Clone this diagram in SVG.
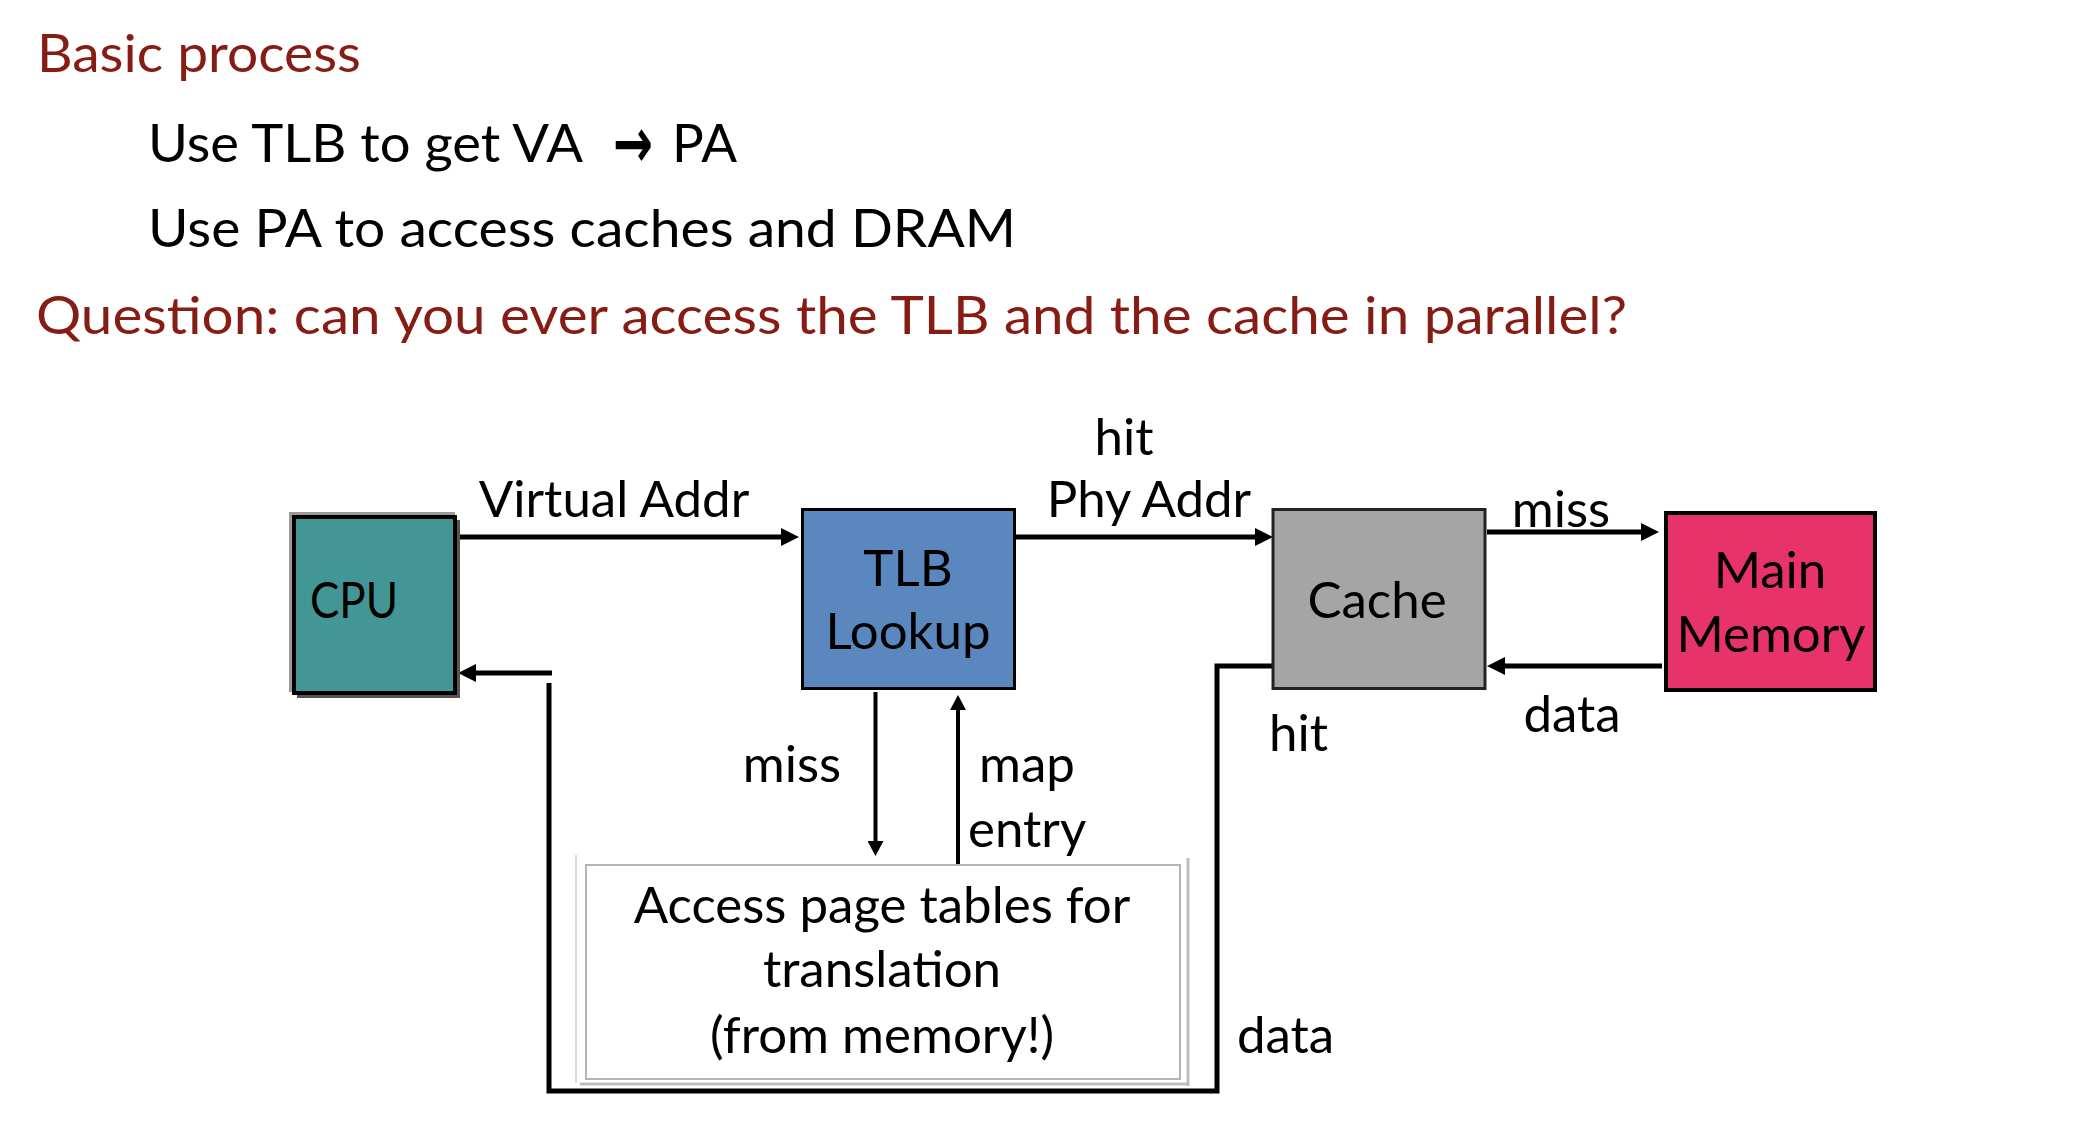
<svg xmlns="http://www.w3.org/2000/svg" width="2096" height="1136" viewBox="0 0 2096 1136">
<style>
text{font-family:Lato,"Open Sans","Liberation Sans",sans-serif;fill:#000}
.h{font-size:52px}
.red{fill:#861C13}
.lbl{font-size:51px}
.c{text-anchor:middle}
.wire{fill:none;stroke:#000;stroke-width:5}
.thin{fill:none;stroke:#000;stroke-width:4}
</style>
<defs>
<marker id="ah" markerUnits="userSpaceOnUse" markerWidth="18" markerHeight="18" refX="6" refY="9" orient="auto">
<path d="M0,0 L18,9 L0,18 z" fill="#000"/>
</marker>
<marker id="ahs" markerUnits="userSpaceOnUse" markerWidth="16" markerHeight="16" refX="5" refY="8" orient="auto">
<path d="M0,0 L15,8 L0,16 z" fill="#000"/>
</marker>
</defs>
<rect width="2096" height="1136" fill="#fff"/>
<g id="header">
<text class="h red" x="37" y="72" textLength="324" lengthAdjust="spacingAndGlyphs">Basic process</text>
<text class="h" x="148" y="162" textLength="435" lengthAdjust="spacingAndGlyphs">Use TLB to get VA</text>
<text x="613" y="167" textLength="40" lengthAdjust="spacingAndGlyphs" style="font-family:'DejaVu Sans',sans-serif;font-weight:bold;font-size:70px">→</text>
<text class="h" x="672" y="162" textLength="65" lengthAdjust="spacingAndGlyphs">PA</text>
<text class="h" x="148" y="247" textLength="868" lengthAdjust="spacingAndGlyphs">Use PA to access caches and DRAM</text>
<text class="h red" x="36" y="334" textLength="1591" lengthAdjust="spacingAndGlyphs">Question: can you ever access the TLB and the cache in parallel?</text>
</g>
<g id="connectors">
<line class="wire" x1="457" y1="537" x2="787" y2="537" marker-end="url(#ah)"/>
<line class="wire" x1="1016" y1="537" x2="1261" y2="537" marker-end="url(#ah)"/>
<line class="wire" x1="1487" y1="532" x2="1647" y2="532" marker-end="url(#ah)"/>
<line class="wire" x1="1662" y1="666" x2="1499" y2="666" marker-end="url(#ah)"/>
<path class="wire" d="M1274,666 H1217 V1091 H549 V683"/>
<line class="wire" x1="552" y1="673" x2="470" y2="673" marker-end="url(#ah)"/>
<line class="thin" x1="875.5" y1="692" x2="875.5" y2="846" marker-end="url(#ahs)"/>
<line class="thin" x1="958" y1="865" x2="958" y2="705" marker-end="url(#ahs)"/>
<text class="lbl c" x="614" y="517">Virtual Addr</text>
<text class="lbl c" x="1124" y="455">hit</text>
<text class="lbl c" x="1149" y="517">Phy Addr</text>
<text class="lbl c" x="1561" y="527">miss</text>
<text class="lbl c" x="1572" y="732">data</text>
<text class="lbl" x="1269" y="751">hit</text>
<text class="lbl c" x="792" y="782">miss</text>
<text class="lbl" x="979" y="782">map</text>
<text class="lbl" x="968" y="847">entry</text>
<text class="lbl" x="1237" y="1053">data</text>
</g>
<g id="cpu">
<rect x="289" y="512" width="166" height="180" fill="#9a9a9a"/>
<rect x="297" y="520" width="163" height="178" fill="#555"/>
<rect x="294" y="517" width="161" height="176" fill="#439696" stroke="#000" stroke-width="4"/>
<text class="lbl c" x="354" y="618" textLength="88" lengthAdjust="spacingAndGlyphs">CPU</text>
</g>
<g id="tlb">
<rect x="802.5" y="509.5" width="212" height="179" fill="#5B87BF" stroke="#000" stroke-width="3"/>
<text class="lbl c" x="908" y="586">TLB</text>
<text class="lbl c" x="908" y="649">Lookup</text>
</g>
<g id="cache">
<rect x="1273" y="509.5" width="212" height="179" fill="#A5A5A5" stroke="#222" stroke-width="3"/>
<text class="lbl c" x="1377" y="618">Cache</text>
</g>
<g id="memory">
<rect x="1666" y="513" width="209" height="177" fill="#E8336A" stroke="#000" stroke-width="4"/>
<text class="lbl c" x="1770" y="588">Main</text>
<text class="lbl c" x="1771" y="652">Memory</text>
</g>
<g id="pagetables">
<line x1="576" y1="855" x2="576" y2="1083" stroke="#dcdcdc" stroke-width="2"/>
<line x1="580" y1="1084" x2="1189" y2="1084" stroke="#bdbdbd" stroke-width="3"/>
<line x1="1188" y1="858" x2="1188" y2="1086" stroke="#bdbdbd" stroke-width="3"/>
<rect x="586" y="865" width="594" height="214" fill="#fff" stroke="#b4b4b4" stroke-width="2"/>
<text class="lbl c" x="882" y="923">Access page tables for</text>
<text class="lbl c" x="882" y="987">translation</text>
<text class="lbl c" x="882" y="1053">(from memory!)</text>
</g>
</svg>
